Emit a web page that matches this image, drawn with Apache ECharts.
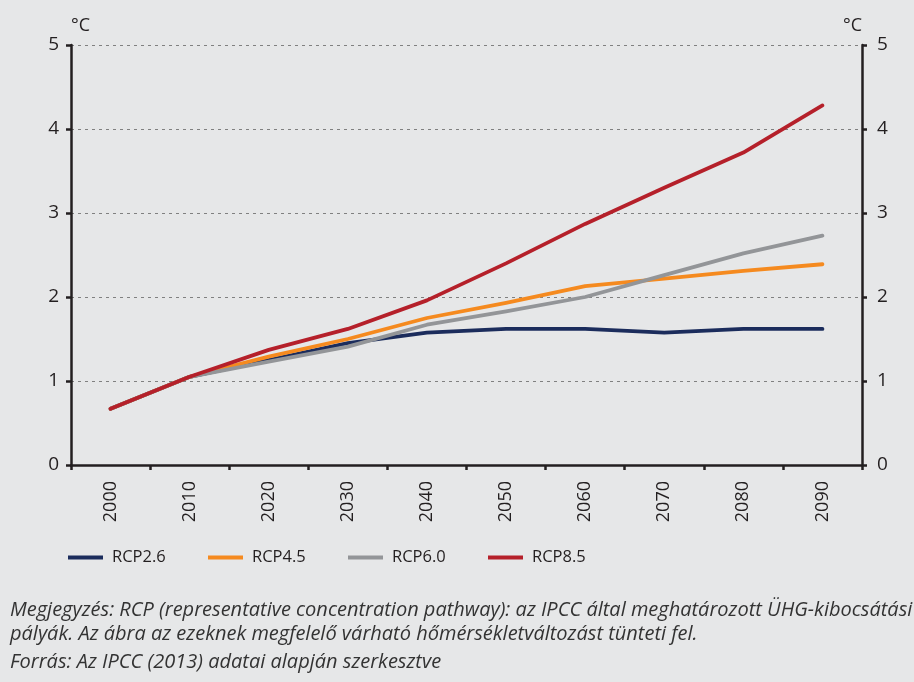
<!DOCTYPE html>
<html>
<head>
<meta charset="utf-8">
<script src="https://cdn.jsdelivr.net/npm/echarts@6/dist/echarts.min.js"></script>
<style>
html,body{margin:0;padding:0;background:#e6e7e8;}
#c{width:914px;height:682px;}
</style>
</head>
<body>
<div id="c"></div>
<script>
const years = ['2000','2010','2020','2030','2040','2050','2060','2070','2080','2090'];
const seriesNames = ['RCP2.6','RCP4.5','RCP6.0','RCP8.5'];
const rcp26 = [0.67, 1.05, 1.25, 1.45, 1.575, 1.62, 1.62, 1.575, 1.62, 1.62];
const rcp45 = [0.67, 1.05, 1.29, 1.50, 1.75, 1.93, 2.13, 2.22, 2.31, 2.39];
const rcp60 = [0.67, 1.05, 1.23, 1.41, 1.67, 1.83, 2.00, 2.26, 2.52, 2.73];
const rcp85 = [0.67, 1.05, 1.37, 1.62, 1.96, 2.40, 2.87, 3.30, 3.72, 4.28];
const yMin = 0, yMax = 5, yStep = 1;
const unitLabel = '°C';
const noteLines = [
  'Megjegyzés: RCP (representative concentration pathway): az IPCC által meghatározott ÜHG-kibocsátási',
  'pályák. Az ábra az ezeknek megfelelő várható hőmérsékletváltozást tünteti fel.',
  'Forrás: Az IPCC (2013) adatai alapján szerkesztve'
];

const colors = ['#1b2c5c', '#f58a1f', '#939598', '#b5202a'];
const values = [rcp26, rcp45, rcp60, rcp85];
const font = '"Open Sans", sans-serif';
const textColor = '#231f20';

const chart = echarts.init(document.getElementById('c'), null, {renderer: 'canvas'});

function yAxis(pos) {
  return {
    type: 'value', position: pos, min: yMin, max: yMax, interval: yStep,
    axisLine: {show: true, lineStyle: {color: '#231f20', width: 2.5}},
    axisTick: {show: true, length: 5, lineStyle: {color: '#231f20', width: 2.5}},
    axisLabel: {color: textColor, fontSize: 19, fontFamily: font, margin: pos === 'left' ? 12 : 15},
    splitLine: {show: pos === 'left', lineStyle: {color: '#808080', type: [3, 4], width: 1.2}}
  };
}

const legends = seriesNames.map((n, i) => ({
  data: [n], left: 68 + i * 140, top: 549, padding: 0,
  icon: 'rect', itemWidth: 35, itemHeight: 4,
  textStyle: {color: textColor, fontSize: 16.5, fontFamily: font, padding: [0, 0, 0, 4]},
  selectedMode: false
}));

chart.setOption({
  backgroundColor: '#e6e7e8',
  animation: false,
  grid: {left: 71, right: 52, top: 45, bottom: 217},
  legend: legends,
  xAxis: {
    type: 'category', data: years, boundaryGap: true,
    axisLine: {lineStyle: {color: '#231f20', width: 2.5}},
    axisTick: {show: true, length: 5, interval: 0, lineStyle: {color: '#231f20', width: 2.5}},
    axisLabel: {rotate: 90, interval: 0, color: textColor, fontSize: 18, fontFamily: font, margin: 16}
  },
  yAxis: [yAxis('left'), yAxis('right')],
  graphic: [
    {type: 'text', left: 71, top: 17, style: {text: unitLabel, fill: textColor, font: '18px ' + font}},
    {type: 'text', left: 843, top: 17, style: {text: unitLabel, fill: textColor, font: '18px ' + font}},
    {type: 'text', left: 10, top: 600, style: {text: noteLines[0], fill: '#333', font: 'italic 20px ' + font}},
    {type: 'text', left: 10, top: 624, style: {text: noteLines[1], fill: '#333', font: 'italic 20px ' + font}},
    {type: 'text', left: 10, top: 652, style: {text: noteLines[2], fill: '#333', font: 'italic 20px ' + font}}
  ],
  series: values.map((v, i) => ({
    name: seriesNames[i], type: 'line', data: v, yAxisIndex: 0,
    symbol: 'none', smooth: false,
    lineStyle: {color: colors[i], width: 3.8, cap: 'round', join: 'round'},
    itemStyle: {color: colors[i]},
    z: 2 + i
  }))
});
</script>
</body>
</html>
